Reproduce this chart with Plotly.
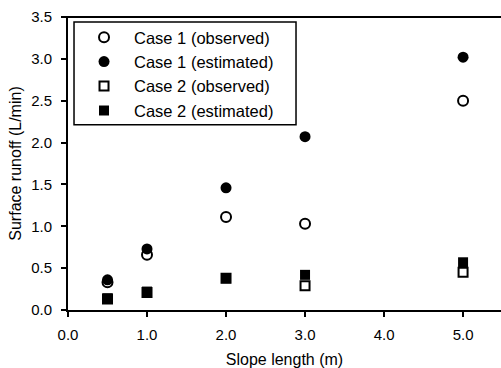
import plotly.graph_objects as go

slope_length = [0.5, 1.0, 2.0, 3.0, 5.0]
case1_observed = [0.33, 0.66, 1.11, 1.03, 2.50]
case1_estimated = [0.36, 0.73, 1.46, 2.07, 3.02]
case2_observed = [0.13, 0.21, 0.38, 0.29, 0.45]
case2_estimated = [0.14, 0.22, 0.38, 0.42, 0.57]

x_ticks = [0, 1, 2, 3, 4, 5]
x_tick_labels = ["0.0", "1.0", "2.0", "3.0", "4.0", "5.0"]
y_ticks = [0, 0.5, 1.0, 1.5, 2.0, 2.5, 3.0, 3.5]
y_tick_labels = ["0.0", "0.5", "1.0", "1.5", "2.0", "2.5", "3.0", "3.5"]

FONT = "Liberation Sans, Arial, sans-serif"

fig = go.Figure()
fig.add_trace(go.Scatter(x=slope_length, y=case1_observed, mode="markers",
                         name="Case 1 (observed)",
                         marker=dict(symbol="circle-open", size=10, color="black",
                                     line=dict(width=2, color="black"))))
fig.add_trace(go.Scatter(x=slope_length, y=case1_estimated, mode="markers",
                         name="Case 1 (estimated)",
                         marker=dict(symbol="circle", size=11, color="black")))
fig.add_trace(go.Scatter(x=slope_length, y=case2_observed, mode="markers",
                         name="Case 2 (observed)",
                         marker=dict(symbol="square-open", size=9, color="black",
                                     line=dict(width=2, color="black"))))
fig.add_trace(go.Scatter(x=slope_length, y=case2_estimated, mode="markers",
                         name="Case 2 (estimated)",
                         marker=dict(symbol="square", size=10, color="black")))

fig.update_layout(
    width=501, height=368,
    margin=dict(l=68, r=0, t=17, b=58),
    paper_bgcolor="white", plot_bgcolor="white",
    font=dict(family=FONT, color="black", size=15),
    showlegend=True,
    legend=dict(x=0.0139, y=0.99, xanchor="left", yanchor="top",
                bgcolor="rgba(0,0,0,0)", borderwidth=0,
                font=dict(size=16.5, family=FONT), itemwidth=50,
                tracegroupgap=0),
    xaxis=dict(range=[0, 5.48], tickvals=x_ticks, ticktext=x_tick_labels,
               showgrid=False, zeroline=False, showline=True, linecolor="black",
               linewidth=2, ticks="outside", ticklen=5, tickwidth=1.5,
               tickcolor="black", tickfont=dict(size=15), ticklabelstandoff=5,
               title=dict(text="Slope length (m)", font=dict(size=16), standoff=15)),
    yaxis=dict(range=[0, 3.5], tickvals=y_ticks, ticktext=y_tick_labels,
               showgrid=False, zeroline=False, showline=True, linecolor="black",
               linewidth=2, ticks="outside", ticklen=5, tickwidth=1.5,
               tickcolor="black", tickfont=dict(size=15), ticklabelstandoff=6,
               title=dict(text="Surface runoff (L/min)", font=dict(size=16), standoff=6)),
    shapes=[
        dict(type="line", xref="paper", yref="paper", x0=-0.012, x1=1, y0=1, y1=1,
             line=dict(color="black", width=2)),
        dict(type="rect", xref="paper", yref="paper", x0=0.0139, x1=0.5266,
             y0=0.632, y1=0.983, line=dict(color="black", width=1.5)),
    ],
)

fig.write_html("out.html")
